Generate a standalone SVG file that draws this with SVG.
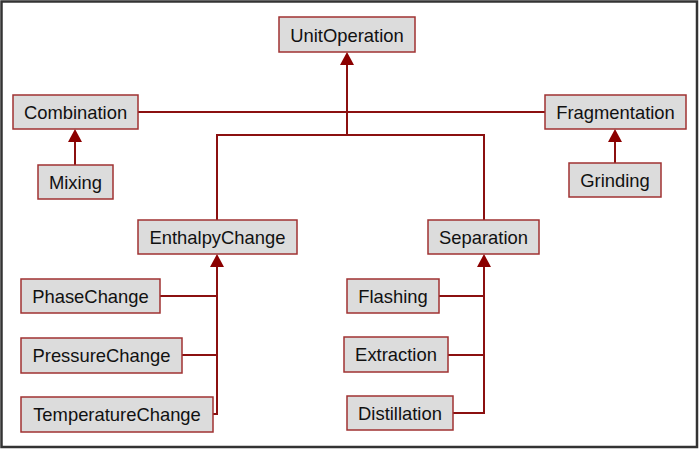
<svg xmlns="http://www.w3.org/2000/svg" width="700" height="450" viewBox="0 0 700 450">
<style>
.n rect{fill:#dcdcdc;stroke:#a03232;stroke-width:1.5}
.n text{font-family:"Liberation Sans",Arial,sans-serif;font-size:18.4px;fill:#111;text-anchor:middle;dominant-baseline:central}
.c path{fill:none;stroke:#8b1010;stroke-width:2}
.h{fill:#8b0000;stroke:none}
</style>
<rect x="1.5" y="1.5" width="695.5" height="445.5" fill="#fff" stroke="#333" stroke-width="2.5"/>
<g class="c" id="connectors">
<path d="M347,64 V135"/>
<path d="M138,112 H545"/>
<path d="M217,220 V135 H484 V220"/>
<path d="M75,165 V141"/>
<path d="M615,163 V141"/>
<path d="M217,266 V414 H213"/>
<path d="M160,296 H217"/>
<path d="M182,355 H217"/>
<path d="M484,266 V413 H453"/>
<path d="M439,296 H484"/>
<path d="M448,355 H484"/>
<polygon class="h" points="347,52 354,65 340,65"/>
<polygon class="h" points="75,129 82,142 68,142"/>
<polygon class="h" points="615,129 622,142 608,142"/>
<polygon class="h" points="217,254 224,267 210,267"/>
<polygon class="h" points="484,254 491,267 477,267"/>
</g>
<g class="n" id="UnitOperation"><rect x="279" y="17" width="136" height="35"/><text x="347" y="35">UnitOperation</text></g>
<g class="n" id="Combination"><rect x="13" y="95" width="125" height="34"/><text x="75.5" y="112.5">Combination</text></g>
<g class="n" id="Mixing"><rect x="38" y="165" width="75" height="34"/><text x="75.5" y="182.5">Mixing</text></g>
<g class="n" id="Fragmentation"><rect x="545" y="95" width="141" height="34"/><text x="615.5" y="112.5">Fragmentation</text></g>
<g class="n" id="Grinding"><rect x="569" y="163" width="92" height="34"/><text x="615" y="180.5">Grinding</text></g>
<g class="n" id="EnthalpyChange"><rect x="138" y="220" width="159" height="34"/><text x="217.5" y="237.5">EnthalpyChange</text></g>
<g class="n" id="Separation"><rect x="428" y="220" width="111" height="34"/><text x="483.5" y="237.5">Separation</text></g>
<g class="n" id="PhaseChange"><rect x="21" y="279" width="139" height="34"/><text x="90.5" y="296.5">PhaseChange</text></g>
<g class="n" id="PressureChange"><rect x="21" y="338" width="161" height="35"/><text x="101.5" y="355.5">PressureChange</text></g>
<g class="n" id="TemperatureChange"><rect x="21" y="397" width="192" height="35"/><text x="117" y="414.5">TemperatureChange</text></g>
<g class="n" id="Flashing"><rect x="347" y="279" width="92" height="34"/><text x="393" y="296.5">Flashing</text></g>
<g class="n" id="Extraction"><rect x="344" y="337" width="104" height="35"/><text x="396" y="354.5">Extraction</text></g>
<g class="n" id="Distillation"><rect x="347" y="396" width="106" height="34"/><text x="400" y="413.5">Distillation</text></g>
</svg>
